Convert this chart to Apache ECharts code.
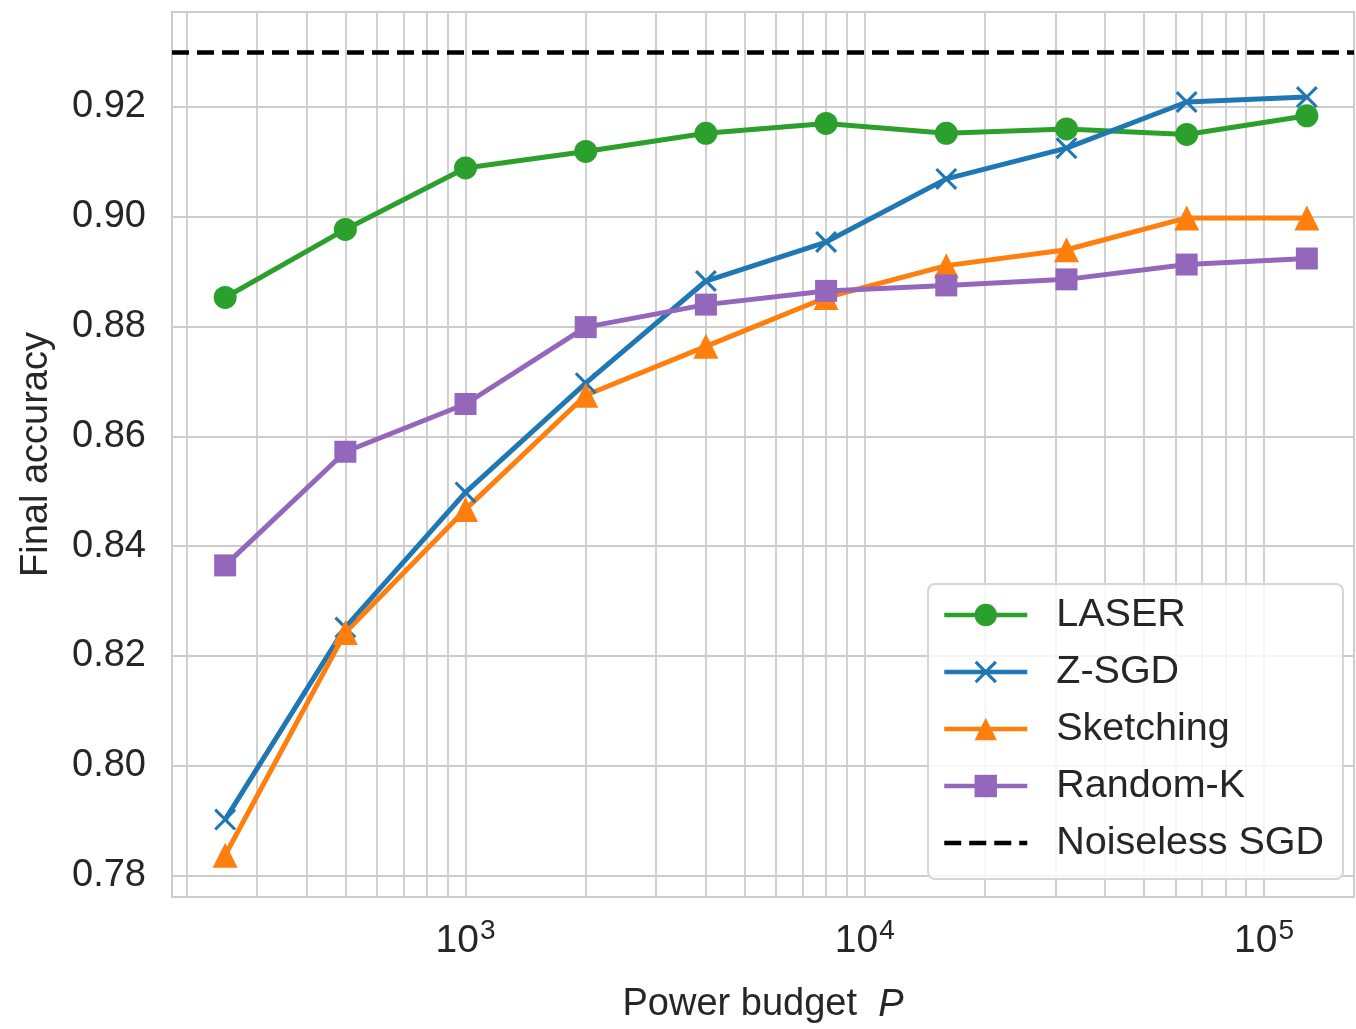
<!DOCTYPE html>
<html>
<head>
<meta charset="utf-8">
<script src="https://cdn.jsdelivr.net/npm/echarts@6/dist/echarts.min.js"></script>
<style>
html,body{margin:0;padding:0;background:#fff;}
#chart{width:1356px;height:1029px;}
</style>
</head>
<body>
<div id="chart"></div>
<script>
// ---- data ----
const powerBudget = [250, 500, 1000, 2000, 4000, 8000, 16000, 32000, 64000, 128000];
const laser     = [0.8853, 0.8977, 0.9089, 0.9119, 0.9152, 0.9170, 0.9152, 0.9160, 0.9150, 0.9184];
const zsgd      = [0.7902, 0.8252, 0.8498, 0.8697, 0.8883, 0.8954, 0.9069, 0.9125, 0.9209, 0.9218];
const sketching = [0.7837, 0.8243, 0.8467, 0.8675, 0.8764, 0.8853, 0.8911, 0.8940, 0.8998, 0.8998];
const randomK   = [0.8365, 0.8572, 0.8659, 0.8799, 0.8840, 0.8865, 0.8875, 0.8886, 0.8913, 0.8924];
const noiselessSGD = 0.93;
const yTicks = [0.78, 0.80, 0.82, 0.84, 0.86, 0.88, 0.90, 0.92];
const xTicks = [1000, 10000, 100000];
const xGrid = [200, 300, 400, 500, 600, 700, 800, 900,
               1000, 2000, 3000, 4000, 5000, 6000, 7000, 8000, 9000,
               10000, 20000, 30000, 40000, 50000, 60000, 70000, 80000, 90000,
               100000];

const FONT = "'Liberation Sans', Arial, Helvetica, sans-serif";
const TXT = '#262626';
const GRIDC = '#cccccc';

const xPath = 'path://M2,0L10,8L18,0L20,2L12,10L20,18L18,20L10,12L2,20L0,18L8,10L0,2Z';

function pairs(ys) { return powerBudget.map((x, i) => [x, ys[i]]); }

function lineSeries(name, ys, color, symbol, size) {
  return {
    name: name, type: 'line', data: pairs(ys),
    symbol: symbol, symbolSize: size, showSymbol: true,
    lineStyle: { color: color, width: 5 },
    itemStyle: { color: color, opacity: 1 },
    emphasis: { disabled: true },
    z: 3
  };
}

const chart = echarts.init(document.getElementById('chart'), null, { renderer: 'canvas' });

const option = {
  animation: false,
  backgroundColor: '#ffffff',
  textStyle: { fontFamily: FONT, color: TXT },
  grid: {
    left: 172, right: 2, top: 12, bottom: 131,
    show: true, borderColor: GRIDC, borderWidth: 2, backgroundColor: '#ffffff'
  },
  graphic: [{
    type: 'rect', left: 927, top: 583, z: 15, zlevel: 1, silent: true,
    shape: { width: 415, height: 295, r: 7 },
    style: { fill: 'rgba(255,255,255,0.82)', stroke: '#d6d6d6', lineWidth: 2 }
  }],
  xAxis: {
    type: 'log', logBase: 10, min: 184, max: 168000,
    axisLine: { show: false }, axisTick: { show: false },
    splitLine: { show: false }, minorSplitLine: { show: false },
    axisLabel: {
      customValues: xTicks,
      margin: 20,
      color: TXT,
      formatter: function (v) {
        const e = Math.round(Math.log10(v));
        return '{b|10}{s|' + e + '}';
      },
      rich: {
        b: { fontSize: 39, fontFamily: FONT, color: TXT },
        s: { fontSize: 28, fontFamily: FONT, color: TXT, padding: [0, 0, 21, 1] }
      }
    },
    name: '{a|Power budget  }{p|P}',
    nameLocation: 'middle', nameGap: 89,
    nameTextStyle: {
      rich: {
        a: { fontSize: 38, fontFamily: FONT, color: TXT },
        p: { fontSize: 38, fontFamily: FONT, color: TXT, fontStyle: 'italic' }
      }
    }
  },
  yAxis: {
    type: 'value', min: 0.7761, max: 0.9373,
    axisLine: { show: false }, axisTick: { show: false },
    splitLine: { show: false },
    axisLabel: {
      customValues: yTicks,
      margin: 26, fontSize: 38, fontFamily: FONT, color: TXT,
      formatter: v => v.toFixed(2)
    },
    name: 'Final accuracy', nameLocation: 'middle', nameGap: 116,
    nameTextStyle: { fontSize: 38, fontFamily: FONT, color: TXT }
  },
  legend: {
    data: ['LASER', 'Z-SGD', 'Sketching', 'Random-K', 'Noiseless SGD'],
    orient: 'vertical', left: 927, top: 583,
    padding: [12, 20, 15, 15],
    itemWidth: 83, itemHeight: 28, itemGap: 17,
    backgroundColor: 'transparent',
    borderWidth: 0,
    zlevel: 1, z: 20,
    lineStyle: { width: 4.5 },
    textStyle: {
      fontSize: 39.5, fontFamily: FONT, color: TXT,
      padding: [0, 0, 0, 24]
    },
    selectedMode: false
  },
  series: [
    {
      name: '_grid', type: 'line', data: [], silent: true, z: 0,
      markLine: {
        z: 0,
        silent: true, symbol: 'none', animation: false,
        label: { show: false },
        lineStyle: { color: GRIDC, width: 1.8, type: 'solid' },
        emphasis: { disabled: true },
        data: xGrid.map(v => ({ xAxis: v })).concat(yTicks.map(v => ({ yAxis: v })))
      }
    },
    lineSeries('LASER', laser, '#2ca02c', 'circle', 23),
    lineSeries('Z-SGD', zsgd, '#1f77b4', xPath, 22),
    lineSeries('Sketching', sketching, '#ff7f0e', 'triangle', 25),
    lineSeries('Random-K', randomK, '#9467bd', 'rect', 22),
    {
      name: 'Noiseless SGD', type: 'line', data: [], symbol: 'none',
      lineStyle: { color: '#000000', width: 5, type: [17, 8] },
      itemStyle: { color: '#000000', opacity: 0 },
      z: 4,
      markLine: {
        z: 4,
        silent: true, symbol: 'none', animation: false,
        label: { show: false },
        lineStyle: { color: '#000000', width: 4.5, type: [17, 8], opacity: 1 },
        data: [{ yAxis: noiselessSGD }]
      }
    }
  ]
};
chart.setOption(option);
</script>
</body>
</html>
